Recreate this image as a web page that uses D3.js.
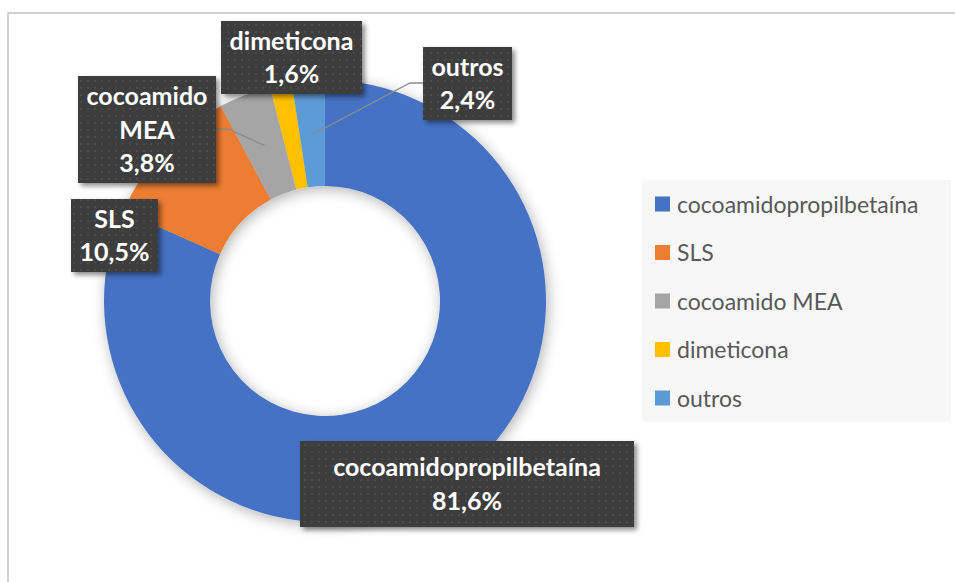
<!DOCTYPE html>
<html>
<head>
<meta charset="utf-8">
<script src="https://cdn.jsdelivr.net/npm/d3@7"></script>
<style>
  html, body { margin: 0; padding: 0; background: #ffffff; }
  svg { display: block; }
</style>
</head>
<body>
<svg id="chart" width="955" height="582"></svg>
<script>
// Composition data (percent)
const categories = ["cocoamidopropilbetaína", "SLS", "cocoamido MEA", "dimeticona", "outros"];
const values = [81.6, 10.5, 3.8, 1.6, 2.4];
const colors = ["#4472C4", "#ED7D31", "#A5A5A5", "#FFC000", "#5B9BD5"];

const W = 955, H = 582;
const svg = d3.select("#chart");
const font = "Lato, 'Open Sans', sans-serif";

const defs = svg.append("defs");
// soft shadow around the ring
const ringShadow = defs.append("filter").attr("id", "ringShadow")
  .attr("x", "-20%").attr("y", "-20%").attr("width", "140%").attr("height", "140%");
ringShadow.append("feDropShadow").attr("dx", 2).attr("dy", 3)
  .attr("stdDeviation", 7).attr("flood-color", "#000").attr("flood-opacity", 0.3);
// shadow for the label boxes
const boxShadow = defs.append("filter").attr("id", "boxShadow")
  .attr("x", "-20%").attr("y", "-30%").attr("width", "140%").attr("height", "160%");
boxShadow.append("feDropShadow").attr("dx", 3).attr("dy", 3)
  .attr("stdDeviation", 2.5).attr("flood-color", "#000").attr("flood-opacity", 0.45);
// dotted dark fill for the label boxes
const pat = defs.append("pattern").attr("id", "dots")
  .attr("patternUnits", "userSpaceOnUse").attr("width", 7).attr("height", 7);
pat.append("rect").attr("width", 7).attr("height", 7).attr("fill", "#3d3d3d");
pat.append("rect").attr("x", 3).attr("y", 3).attr("width", 2).attr("height", 2).attr("fill", "#4c4c4c");

// chart frame
svg.append("rect")
  .attr("x", 8).attr("y", 13).attr("width", W + 20).attr("height", H + 20)
  .attr("fill", "#fff").attr("stroke", "#c6c6c6").attr("stroke-width", 1.6);

// Donut
const cx = 325, cy = 301, outerR = 221, innerR = 115;
const pie = d3.pie().sort(null).value(d => d)(values);
const arc = d3.arc().innerRadius(innerR).outerRadius(outerR);

const ring = svg.append("g")
  .attr("transform", `translate(${cx},${cy})`)
  .attr("filter", "url(#ringShadow)");
ring.selectAll("path").data(pie).join("path")
  .attr("d", arc)
  .attr("fill", (d, i) => colors[i]);

// Legend
const legend = svg.append("g");
legend.append("rect")
  .attr("x", 642).attr("y", 180).attr("width", 309).attr("height", 242)
  .attr("fill", "#f7f7f7");
const legendY = d3.scalePoint().domain(categories).range([204, 398]);
const rows = legend.selectAll("g.row").data(categories).join("g")
  .attr("class", "row")
  .attr("transform", d => `translate(0,${legendY(d)})`);
rows.append("rect")
  .attr("x", 655).attr("y", -7.5).attr("width", 15).attr("height", 15)
  .attr("fill", (d, i) => colors[i]);
rows.append("text")
  .attr("x", 677).attr("y", 8.5)
  .attr("font-family", font).attr("font-size", 23)
  .attr("fill", "#595959")
  .text(d => d);

// Data labels
const fmt = v => v.toFixed(1).replace(".", ",") + "%";
const labelBoxes = [
  { x: 300, y: 441, w: 334, h: 86, wrap: false },
  { x: 71, y: 199, w: 87, h: 73, wrap: false },
  { x: 78, y: 76, w: 138, h: 107, wrap: true },
  { x: 221, y: 21, w: 141, h: 73, wrap: false },
  { x: 423, y: 47, w: 89, h: 73, wrap: false }
];

// leader lines for the small slices, from box edge to a point inside the slice
const leaderFor = {
  2: { side: "right", y: 129, elbow: 12 },
  4: { side: "left", y: 83, elbow: 13 }
};
const leaderArc = d3.arc().innerRadius(167).outerRadius(167);
Object.entries(leaderFor).forEach(([k, L]) => {
  const i = +k, b = labelBoxes[i];
  const [px, py] = leaderArc.centroid(pie[i]);
  const x0 = L.side === "right" ? b.x + b.w : b.x;
  const x1 = L.side === "right" ? x0 + L.elbow : x0 - L.elbow;
  svg.append("polyline")
    .attr("points", `${x0},${L.y} ${x1},${L.y} ${cx + px},${cy + py}`)
    .attr("fill", "none").attr("stroke", "#8c8c8c").attr("stroke-width", 1.3);
});

const labels = svg.selectAll("g.lbl").data(pie).join("g").attr("class", "lbl");
labels.append("rect")
  .attr("x", (d, i) => labelBoxes[i].x).attr("y", (d, i) => labelBoxes[i].y)
  .attr("width", (d, i) => labelBoxes[i].w).attr("height", (d, i) => labelBoxes[i].h)
  .attr("fill", "url(#dots)")
  .attr("filter", "url(#boxShadow)");
labels.each(function(d, i) {
  const b = labelBoxes[i];
  const name = categories[i];
  const lines = (b.wrap ? name.split(" ") : [name]).concat([fmt(d.data)]);
  const lh = 33.5;
  const midY = b.y + b.h / 2;
  const t = d3.select(this).append("text")
    .attr("font-family", font).attr("font-weight", 700).attr("font-size", 25)
    .attr("fill", "#ffffff").attr("text-anchor", "middle");
  lines.forEach((ln, j) => {
    t.append("tspan")
      .attr("x", b.x + b.w / 2)
      .attr("y", midY + (j - (lines.length - 1) / 2) * lh + 9)
      .text(ln);
  });
});
</script>
</body>
</html>
